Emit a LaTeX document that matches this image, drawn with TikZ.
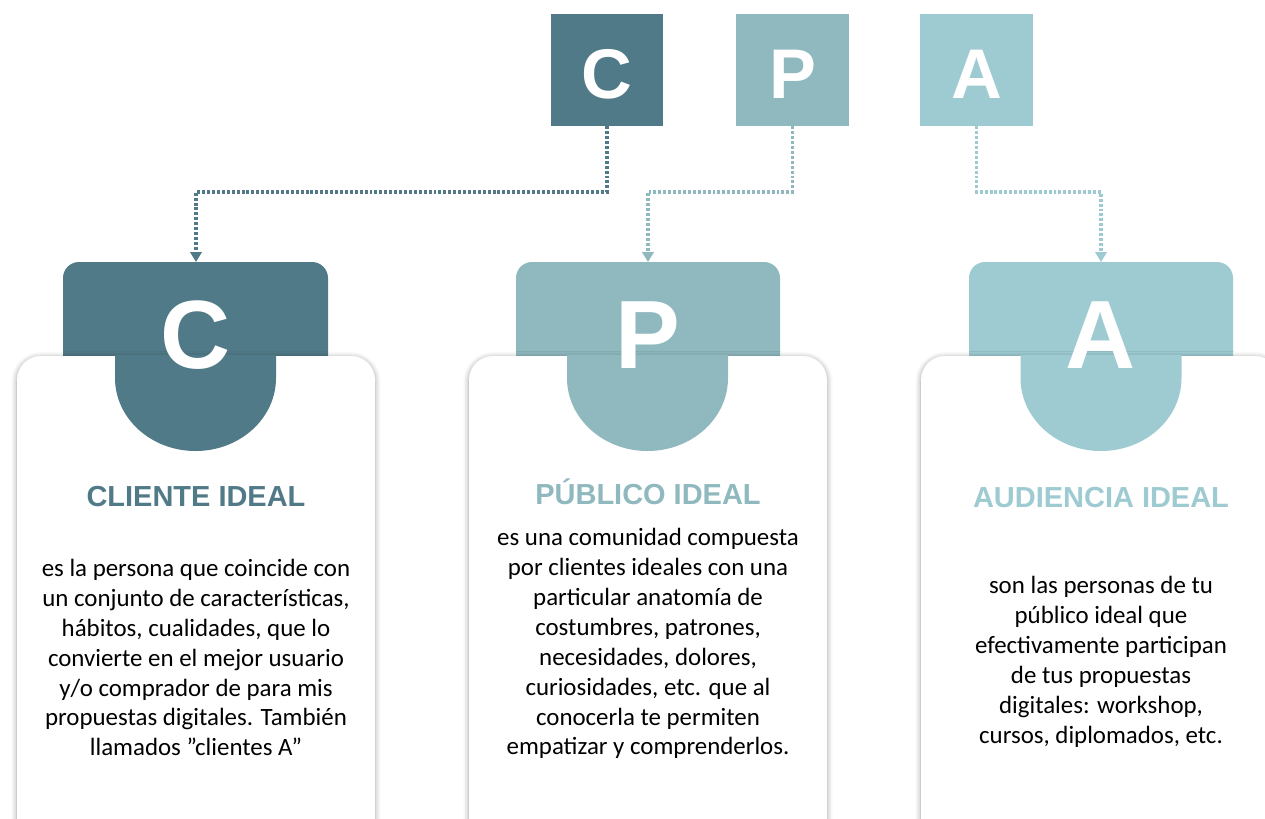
\documentclass[tikz,border=0pt]{standalone}
\usepackage{fontspec}
\setmainfont{Carlito}
\newfontfamily\headfont{Liberation Sans}
\usetikzlibrary{arrows.meta, shadows.blur}
\definecolor{cliente}{RGB}{80,122,135}
\definecolor{publico}{RGB}{143,185,191}
\definecolor{audiencia}{RGB}{158,203,210}
\tikzset{>={Triangle[width=8pt,length=7pt]}}
\tikzset{
    cuadro/.style={minimum size=2.8cm, inner sep=0pt, text height=40pt, text depth=0pt, text=white, font=\headfont\bfseries\fontsize{50}{50}\selectfont},
    letra/.style={inner sep=0pt, text=white, font=\headfont\bfseries\fontsize{69}{69}\selectfont},
    titulo/.style={anchor=base, font=\headfont\bfseries\fontsize{20.6}{24}\selectfont},
    cuerpo/.style={align=center, font=\fontsize{17.7}{21.3}\selectfont},
    punteado/.style={line width=2.2pt, dash pattern=on 2.1pt off 1.4pt},
    tarjeta/.style={rounded corners=0.6cm, blur shadow={shadow xshift=0pt, shadow yshift=-1pt, shadow blur radius=4pt}},
}

\begin{document}
\begin{tikzpicture}[x=0.025cm, y=-0.025cm]
    \clip (0,0) rectangle (1265,818);
    \node[cuadro, fill=cliente] (C) at (607,70) {C};
    \node[cuadro, fill=publico] (P) at (792.5,70) {P};
    \node[cuadro, fill=audiencia] (A) at (976.5,70) {A};
    \coordinate (Ctop) at (196,262);
    \coordinate (Ptop) at (648,262);
    \coordinate (Atop) at (1101,262);
    \draw [punteado, cliente, ->] (C.south) -- (C.south |- 0,192) -- (Ctop |- 0,192) -- (Ctop);
    \draw [punteado, publico, ->] (P.south) -- (P.south |- 0,192) -- (Ptop |- 0,192) -- (Ptop);
    \draw [punteado, audiencia, ->] (A.south) -- (A.south |- 0,192) -- (Atop |- 0,192) -- (Atop);

    \fill [cliente, rounded corners=0.4cm] (63,262) rectangle (328,380);
    \fill [white, tarjeta] (17,356) rectangle (375,900);
    \fill [cliente] (115,355) -- (115,378) arc [start angle=180, end angle=0, x radius=80.5, y radius=73] -- (276,355) -- cycle;
    \node [letra] (Cletra) at (196,335) {C};
    \node [titulo, text=cliente] (Ctitulo) at (196,506) {CLIENTE IDEAL};
    \node [cuerpo] (Ctexto) at (196,657.5) {es la persona que coincide con\\un conjunto de características,\\hábitos, cualidades, que lo\\convierte en el mejor usuario\\y/o comprador de para mis\\propuestas digitales. También\\llamados ”clientes A”};

    \fill [publico, rounded corners=0.4cm] (516,262) rectangle (780,380);
    \fill [white, tarjeta] (469,356) rectangle (827,900);
    \fill [publico] (567,355) -- (567,378) arc [start angle=180, end angle=0, x radius=80.5, y radius=73] -- (728,355) -- cycle;
    \node [letra] (Pletra) at (648,335) {P};
    \node [titulo, text=publico] (Ptitulo) at (648,504) {PÚBLICO IDEAL};
    \node [cuerpo] (Ptexto) at (648,643.5) {es una comunidad compuesta\\por clientes ideales con una\\particular anatomía de\\costumbres, patrones,\\necesidades, dolores,\\curiosidades, etc. que al\\conocerla te permiten\\empatizar y comprenderlos.};

    \fill [audiencia, rounded corners=0.4cm] (969,262) rectangle (1233,380);
    \fill [white, tarjeta] (921,356) rectangle (1279,900);
    \fill [audiencia] (1020.5,355) -- (1020.5,378) arc [start angle=180, end angle=0, x radius=80.5, y radius=73] -- (1181.5,355) -- cycle;
    \node [letra] (Aletra) at (1101,335) {A};
    \node [titulo, text=audiencia] (Atitulo) at (1101,507) {AUDIENCIA IDEAL};
    \node [cuerpo] (Atexto) at (1101,662) {son las personas de tu\\público ideal que\\efectivamente participan\\de tus propuestas\\digitales: workshop,\\cursos, diplomados, etc.};
\end{tikzpicture}
\end{document}
